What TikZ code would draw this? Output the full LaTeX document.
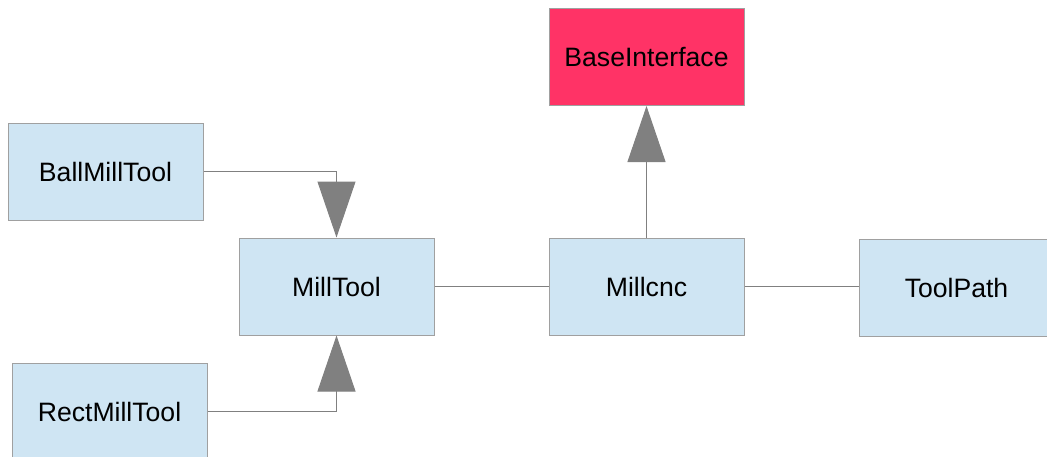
\documentclass[tikz,border=0pt]{standalone}
\usepackage{fontspec}
\setmainfont{Liberation Sans}
\usetikzlibrary{arrows.meta}
\definecolor{paleblue}{HTML}{CFE5F3}
\definecolor{rosered}{HTML}{FF3366}
\definecolor{boxline}{HTML}{A0A0A0}
\definecolor{wire}{HTML}{808080}
\tikzset{
  classbox/.style={draw=boxline, line width=1pt, fill=paleblue, minimum width=195pt,
    minimum height=97pt, inner sep=0pt, font=\fontsize{26.6}{32}\selectfont},
  ifacebox/.style={classbox, fill=rosered},
  link/.style={draw=wire, line width=1pt},
  inherit/.style={link, -{Triangle[length=56pt,width=38pt,fill=wire,color=wire]}}
}
\begin{document}
\begin{tikzpicture}[x=1pt,y=-1pt]
\useasboundingbox (0,0) rectangle (1047,456);
\clip (0,0) rectangle (1047,456);
\node[ifacebox] (base) at (646.5,57) {BaseInterface};
\node[classbox] (ball) at (105.5,171.5) {BallMillTool};
\node[classbox] (mill) at (336.5,286.5) {MillTool};
\node[classbox] (cnc) at (646.5,286.5) {Millcnc};
\node[classbox] (path) at (956.5,287.5) {ToolPath};
\node[classbox] (rect) at (109.5,411.5) {RectMillTool};
\draw[inherit] (cnc.north) -- (base.south);
\draw[inherit] (ball.east) -| (mill.north);
\draw[inherit] (rect.east) -| (mill.south);
\draw[link] (mill.east) -- (cnc.west);
\draw[link] (cnc.east) -- (path.west |- cnc.east);
\end{tikzpicture}
\end{document}
